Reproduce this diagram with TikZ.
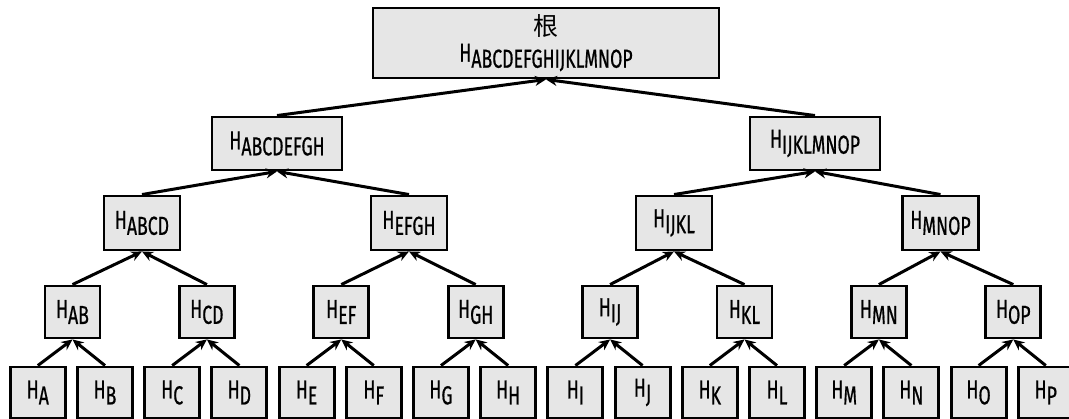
\documentclass[tikz,border=0pt]{standalone}
\usepackage{fontspec}
\setmainfont{Fira Sans}[FakeStretch=0.68,FakeBold=0.6]
\newfontfamily\cjk{Noto Sans CJK SC}
\usetikzlibrary{arrows.meta}
\newcommand{\hsub}[1]{H\raisebox{-6pt}{#1}}
\tikzset{
  hbox/.style={draw=black, line width=2.9pt, fill=boxgray, inner sep=0pt,
    font=\fontsize{26}{30}\selectfont, align=center},
  leafbox/.style={hbox, minimum width=55pt, minimum height=51pt},
  lvtwo/.style={hbox, minimum width=55pt, minimum height=52pt},
  lvthree/.style={hbox, minimum width=76pt, minimum height=54pt},
  lvfour/.style={hbox, minimum width=130pt, minimum height=53pt},
  rootbox/.style={hbox, minimum width=346pt, minimum height=70pt},
  link/.style={line width=3pt, -{Stealth[length=11pt,width=10pt]}}
}
\definecolor{boxgray}{RGB}{230,230,230}
\begin{document}
\begin{tikzpicture}[x=1pt,y=-1pt]
\clip (0,0) rectangle (1069,419);
\fill[white] (0,0) rectangle (1069,419);
% leaves
\foreach \L [count=\i] in {A,B,C,D,E,F,G,H,I,J,K,L,M,N,O,P} {
  \node[leafbox] (l\i) at ({37.8+67.2*(\i-1)},392.5) {\hsub{\L}};
}
% level 2
\foreach \L [count=\i] in {AB,CD,EF,GH,IJ,KL,MN,OP} {
  \node[lvtwo] (m\i) at ({72.5+134.4*(\i-1)},312) {\hsub{\L}};
}
% level 3
\node[lvthree] (t1) at (142,223) {\hsub{ABCD}};
\node[lvthree] (t2) at (409,223) {\hsub{EFGH}};
\node[lvthree] (t3) at (674,223) {\hsub{IJKL}};
\node[lvthree] (t4) at (940.5,223) {\hsub{MNOP}};
% level 4
\node[lvfour] (f1) at (277,143.5) {\hsub{ABCDEFGH}};
\node[lvfour] (f2) at (815,143.5) {\hsub{IJKLMNOP}};
% root
\node[rootbox] (r) at (546,43) {{\cjk\fontsize{25}{27}\selectfont 根}\\[-4pt]\hsub{ABCDEFGHIJKLMNOP}};
% connectors
\foreach \p in {1,...,8} {
  \pgfmathtruncatemacro{\a}{2*\p-1}
  \pgfmathtruncatemacro{\b}{2*\p}
  \draw[link] (l\a.north) -- (m\p.south);
  \draw[link] (l\b.north) -- (m\p.south);
}
\foreach \p in {1,...,4} {
  \pgfmathtruncatemacro{\a}{2*\p-1}
  \pgfmathtruncatemacro{\b}{2*\p}
  \draw[link] (m\a.north) -- (t\p.south);
  \draw[link] (m\b.north) -- (t\p.south);
}
\draw[link] (t1.north) -- (f1.south);
\draw[link] (t2.north) -- (f1.south);
\draw[link] (t3.north) -- (f2.south);
\draw[link] (t4.north) -- (f2.south);
\draw[link] (f1.north) -- (r.south);
\draw[link] (f2.north) -- (r.south);
\end{tikzpicture}
\end{document}
